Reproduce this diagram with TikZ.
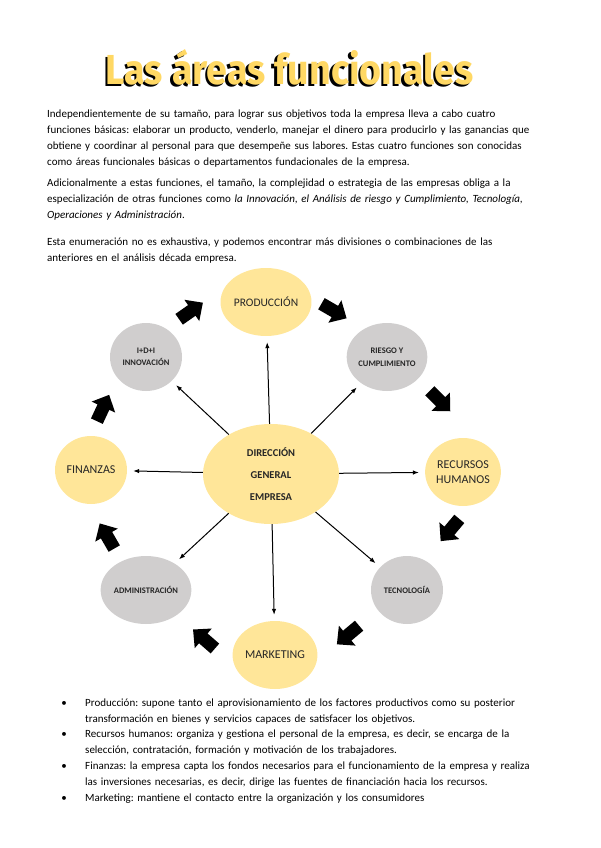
\documentclass[tikz,border=0pt]{standalone}
\usepackage{fontspec}
\setmainfont{Carlito}
\newfontfamily\titlefont{Fira Sans}
\usepackage{graphicx}
\usetikzlibrary{arrows.meta,shapes.geometric}
\frenchspacing

\definecolor{areayellow}{RGB}{255,230,153}
\definecolor{areagray}{RGB}{208,206,206}
\definecolor{titleyellow}{RGB}{255,216,100}
\definecolor{inkgray}{RGB}{38,38,38}

\tikzset{
  yellowarea/.style={ellipse, fill=areayellow, minimum width=72pt, minimum height=68pt,
    inner sep=0pt, align=center, text=inkgray},
  grayarea/.style={ellipse, fill=areagray, minimum width=72pt, minimum height=68pt,
    inner sep=0pt, align=center, text=inkgray, font=\bfseries\fontsize{8.5}{12.5}\selectfont},
  spoke/.style={-{Latex[length=6pt,width=4.5pt]}, line width=1pt, shorten >=6pt},
  bodytext/.style={anchor=base west, inner sep=0pt, text width=540pt, align=left,
    font=\fontsize{11}{16}\selectfont},
  bullettext/.style={bodytext, text width=510pt},
  bulletmark/.style={anchor=base, inner sep=0pt, font=\fontsize{11}{16}\selectfont},
}

\begin{document}
\begin{tikzpicture}[x=1pt,y=-1pt]
\useasboundingbox (0,0) rectangle (600,848);

% title with its shadow
\node[anchor=base west, inner sep=0pt, text=black] (titleshadow) at (103,87)
  {\resizebox{368pt}{35pt}{\titlefont\bfseries Las áreas funcionales}};
\node[anchor=base west, inner sep=0pt, text=titleyellow] (title) at (105.5,85)
  {\resizebox{368pt}{35pt}{\titlefont\bfseries Las áreas funcionales}};

% paragraphs
\node[bodytext] (parauno) at (47,117.3) {Independientemente de su tamaño, para lograr sus objetivos toda la empresa lleva a cabo cuatro\\
funciones básicas: elaborar un producto, venderlo, manejar el dinero para producirlo y las ganancias que\\
obtiene y coordinar al personal para que desempeñe sus labores. Estas cuatro funciones son conocidas\\
como áreas funcionales básicas o departamentos fundacionales de la empresa.};
\node[bodytext] (parados) at (47,186) {Adicionalmente a estas funciones, el tamaño, la complejidad o estrategia de las empresas obliga a la\\
especialización de otras funciones como \textit{la Innovación, el Análisis de riesgo y Cumplimiento, Tecnología,}\\
\textit{Operaciones y Administración}.};
\node[bodytext] (paratres) at (47,245.7) {Esta enumeración no es exhaustiva, y podemos encontrar más divisiones o combinaciones de las\\
anteriores en el análisis década empresa.};

% areas
\node[yellowarea, font=\fontsize{11.5}{14}\selectfont] (prod) at (266,302) {PRODUCCIÓN};
\node[grayarea] (inno) at (146,357) {I+D+I\\INNOVACIÓN};
\node[grayarea] (riesgo) at (387,357) {RIESGO Y\\CUMPLIMIENTO};
\node[yellowarea, font=\fontsize{12}{15}\selectfont] (fin) at (91,470) {FINANZAS};
\node[yellowarea, minimum width=136pt, minimum height=100pt,
  font=\bfseries\fontsize{10.5}{22}\selectfont] (dir) at (271,474) {DIRECCIÓN\\GENERAL\\EMPRESA};
\node[yellowarea, font=\fontsize{12}{15}\selectfont] (rrhh) at (463,472) {RECURSOS\\HUMANOS};
\node[grayarea] (admin) at (146,590) {ADMINISTRACIÓN};
\node[grayarea] (tec) at (407,590) {TECNOLOGÍA};
\node[yellowarea, font=\fontsize{12}{15}\selectfont] (mkt) at (275,655) {MARKETING};

% spokes from the centre
\foreach \area in {prod,riesgo,rrhh,tec,mkt,admin,fin,inno}
  \draw[spoke] (dir) -- (\area);

% block arrows around the cycle
\foreach \ax/\ay/\ang in {191/311/35, 334/311/-30, 440/401/-45, 450/530/-130,
                          348/635/-140, 204/639/139, 107/536/120, 103/408/65}
  \fill[shift={(\ax,\ay)}, rotate=\ang]
    (-14.5,-6.5) -- (1,-6.5) -- (1,-13) -- (14.5,0) -- (1,13) -- (1,6.5) -- (-14.5,6.5) -- cycle;

% bullet list
\node[bulletmark] (buno) at (64,706) {\textbullet};
\node[bullettext] (luno) at (85,706) {Producción: supone tanto el aprovisionamiento de los factores productivos como su posterior\\
transformación en bienes y servicios capaces de satisfacer los objetivos.};
\node[bulletmark] (bdos) at (64,737.7) {\textbullet};
\node[bullettext] (ldos) at (85,737.7) {Recursos humanos: organiza y gestiona el personal de la empresa, es decir, se encarga de la\\
selección, contratación, formación y motivación de los trabajadores.};
\node[bulletmark] (btres) at (64,769.3) {\textbullet};
\node[bullettext] (ltres) at (85,769.3) {Finanzas: la empresa capta los fondos necesarios para el funcionamiento de la empresa y realiza\\
las inversiones necesarias, es decir, dirige las fuentes de financiación hacia los recursos.};
\node[bulletmark] (bcuatro) at (64,801) {\textbullet};
\node[bullettext] (lcuatro) at (85,801) {Marketing: mantiene el contacto entre la organización y los consumidores};

\end{tikzpicture}
\end{document}
